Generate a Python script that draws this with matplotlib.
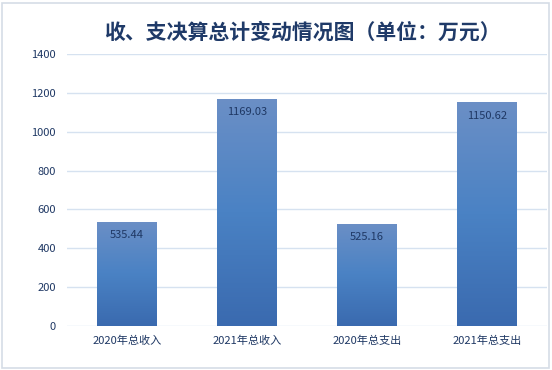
import matplotlib.pyplot as plt
import numpy as np
from matplotlib.colors import LinearSegmentedColormap
from matplotlib.patches import Rectangle

plt.rcParams['font.family'] = ['Noto Sans CJK SC', 'DejaVu Sans']

categories = ['2020年总收入', '2021年总收入', '2020年总支出', '2021年总支出']
values = [535.44, 1169.03, 525.16, 1150.62]
yticks = [0, 200, 400, 600, 800, 1000, 1200, 1400]

fig = plt.figure(figsize=(5.52, 3.70), dpi=100)
ax = fig.add_axes([67 / 552, 1 - 326 / 370, 480 / 552, 272 / 370])

# light frame around the whole chart
fig.patches.append(Rectangle((2 / 552, 2 / 370), 547 / 552, 365 / 370,
                             transform=fig.transFigure, fill=False,
                             edgecolor='#d5dde6', linewidth=1.2))

grad = LinearSegmentedColormap.from_list('bar', ['#3a6aaf', '#4a82c4', '#6b8fc6'])
gimg = np.linspace(0, 1, 256).reshape(-1, 1)

x = np.arange(len(categories))
bars = ax.bar(x, values, width=0.5, color='none', edgecolor='none', zorder=3)
for b, v in zip(bars, values):
    im = ax.imshow(gimg, cmap=grad, aspect='auto', origin='lower',
                   extent=[b.get_x(), b.get_x() + b.get_width(), 0, v], zorder=3)
    im.set_clip_path(b)
    ax.text(b.get_x() + b.get_width() / 2, v - 68, f'{v:.2f}', ha='center', va='center',
            fontsize=8, color='#1f3864', zorder=4)

ax.set_xlim(-0.5, 3.5)
ax.set_ylim(0, 1400)
ax.set_yticks(yticks)
ax.set_xticks(x)
ax.set_xticklabels(categories)
ax.tick_params(length=0, labelsize=8, labelcolor='#1f3864', pad=7)
ax.tick_params(axis='y', pad=8)
ax.grid(axis='y', color='#d6e2f0', linewidth=1)
ax.set_axisbelow(True)
for s in ax.spines.values():
    s.set_visible(False)

fig.text(302 / 552, 1 - 32 / 370, '收、支决算总计变动情况图（单位：万元）', ha='center', va='center',
         fontsize=15, fontweight='bold', color='#1f3a68')

fig.savefig('out.png', dpi=100)
